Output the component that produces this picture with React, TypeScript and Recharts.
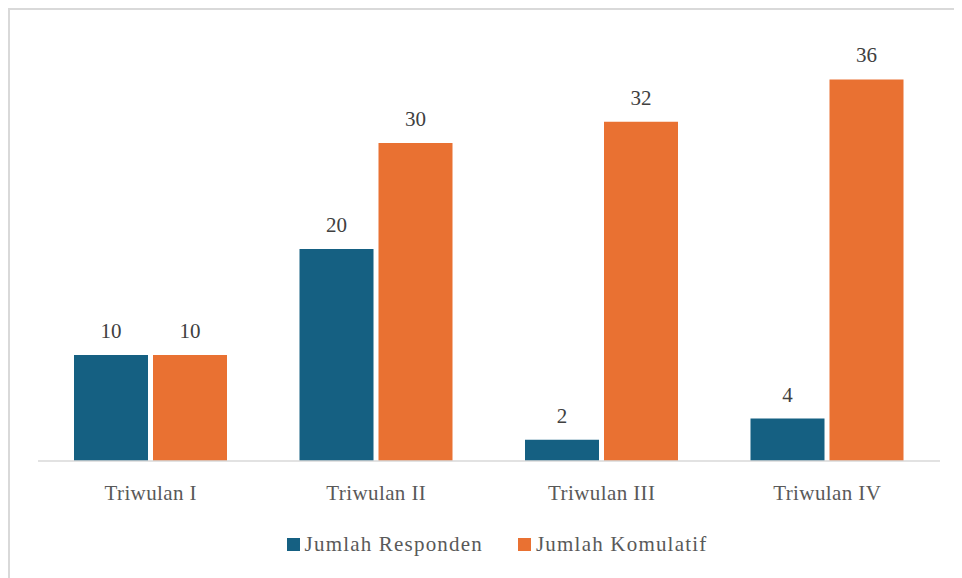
import React from "react";
import { Bar, BarChart, LabelList, Legend, XAxis, YAxis } from "recharts";

const categories: string[] = ["Triwulan I", "Triwulan II", "Triwulan III", "Triwulan IV"];
const responden: number[] = [10, 20, 2, 4];
const komulatif: number[] = [10, 30, 32, 36];

const data = categories.map((name, i) => ({
  name,
  responden: responden[i],
  komulatif: komulatif[i],
}));

const FONT = "'Liberation Serif', 'Times New Roman', serif";

const legendItems = [
  { label: "Jumlah Responden", color: "#156082" },
  { label: "Jumlah Komulatif", color: "#E97132" },
];

const CustomLegend = () => (
  <div
    style={{
      display: "flex",
      justifyContent: "center",
      gap: 35,
      paddingLeft: 22,
      fontFamily: FONT,
      fontSize: 21,
      letterSpacing: 1.2,
      color: "#595959",
    }}
  >
    {legendItems.map((item) => (
      <div key={item.label} style={{ display: "flex", alignItems: "center", gap: 5 }}>
        <span style={{ width: 13, height: 13, background: item.color, display: "inline-block" }} />
        <span>{item.label}</span>
      </div>
    ))}
  </div>
);

const App: React.FC = () => {
  return (
    <div
      style={{
        width: 952,
        height: 570,
        borderTop: "2px solid #d9d9d9",
        borderLeft: "2px solid #d9d9d9",
        background: "#fff",
        overflow: "hidden",
      }}
    >
      <BarChart
        width={952}
        height={568}
        data={data}
        margin={{ top: 27, right: 22, left: 28, bottom: 0 }}
        barSize={74}
        barGap={5}
      >
        <XAxis
          dataKey="name"
          axisLine={{ stroke: "#d9d9d9", strokeWidth: 1.5 }}
          tickLine={false}
          tickMargin={18}
          height={117}
          tick={{ fill: "#595959", fontSize: 21, fontFamily: FONT, letterSpacing: 0.4 }}
        />
        <YAxis hide domain={[0, 40]} />
        <Legend
          layout="horizontal"
          verticalAlign="middle"
          align="center"
          wrapperStyle={{ top: 522, left: 0, width: 952 }}
          content={<CustomLegend />}
        />
        <Bar dataKey="responden" name="Jumlah Responden" fill="#156082" isAnimationActive={false}>
          <LabelList
            dataKey="responden"
            position="top"
            offset={17}
            fill="#404040"
            fontSize={21}
            fontFamily={FONT}
          />
        </Bar>
        <Bar dataKey="komulatif" name="Jumlah Komulatif" fill="#E97132" isAnimationActive={false}>
          <LabelList
            dataKey="komulatif"
            position="top"
            offset={17}
            fill="#404040"
            fontSize={21}
            fontFamily={FONT}
          />
        </Bar>
      </BarChart>
    </div>
  );
};

export default App;
